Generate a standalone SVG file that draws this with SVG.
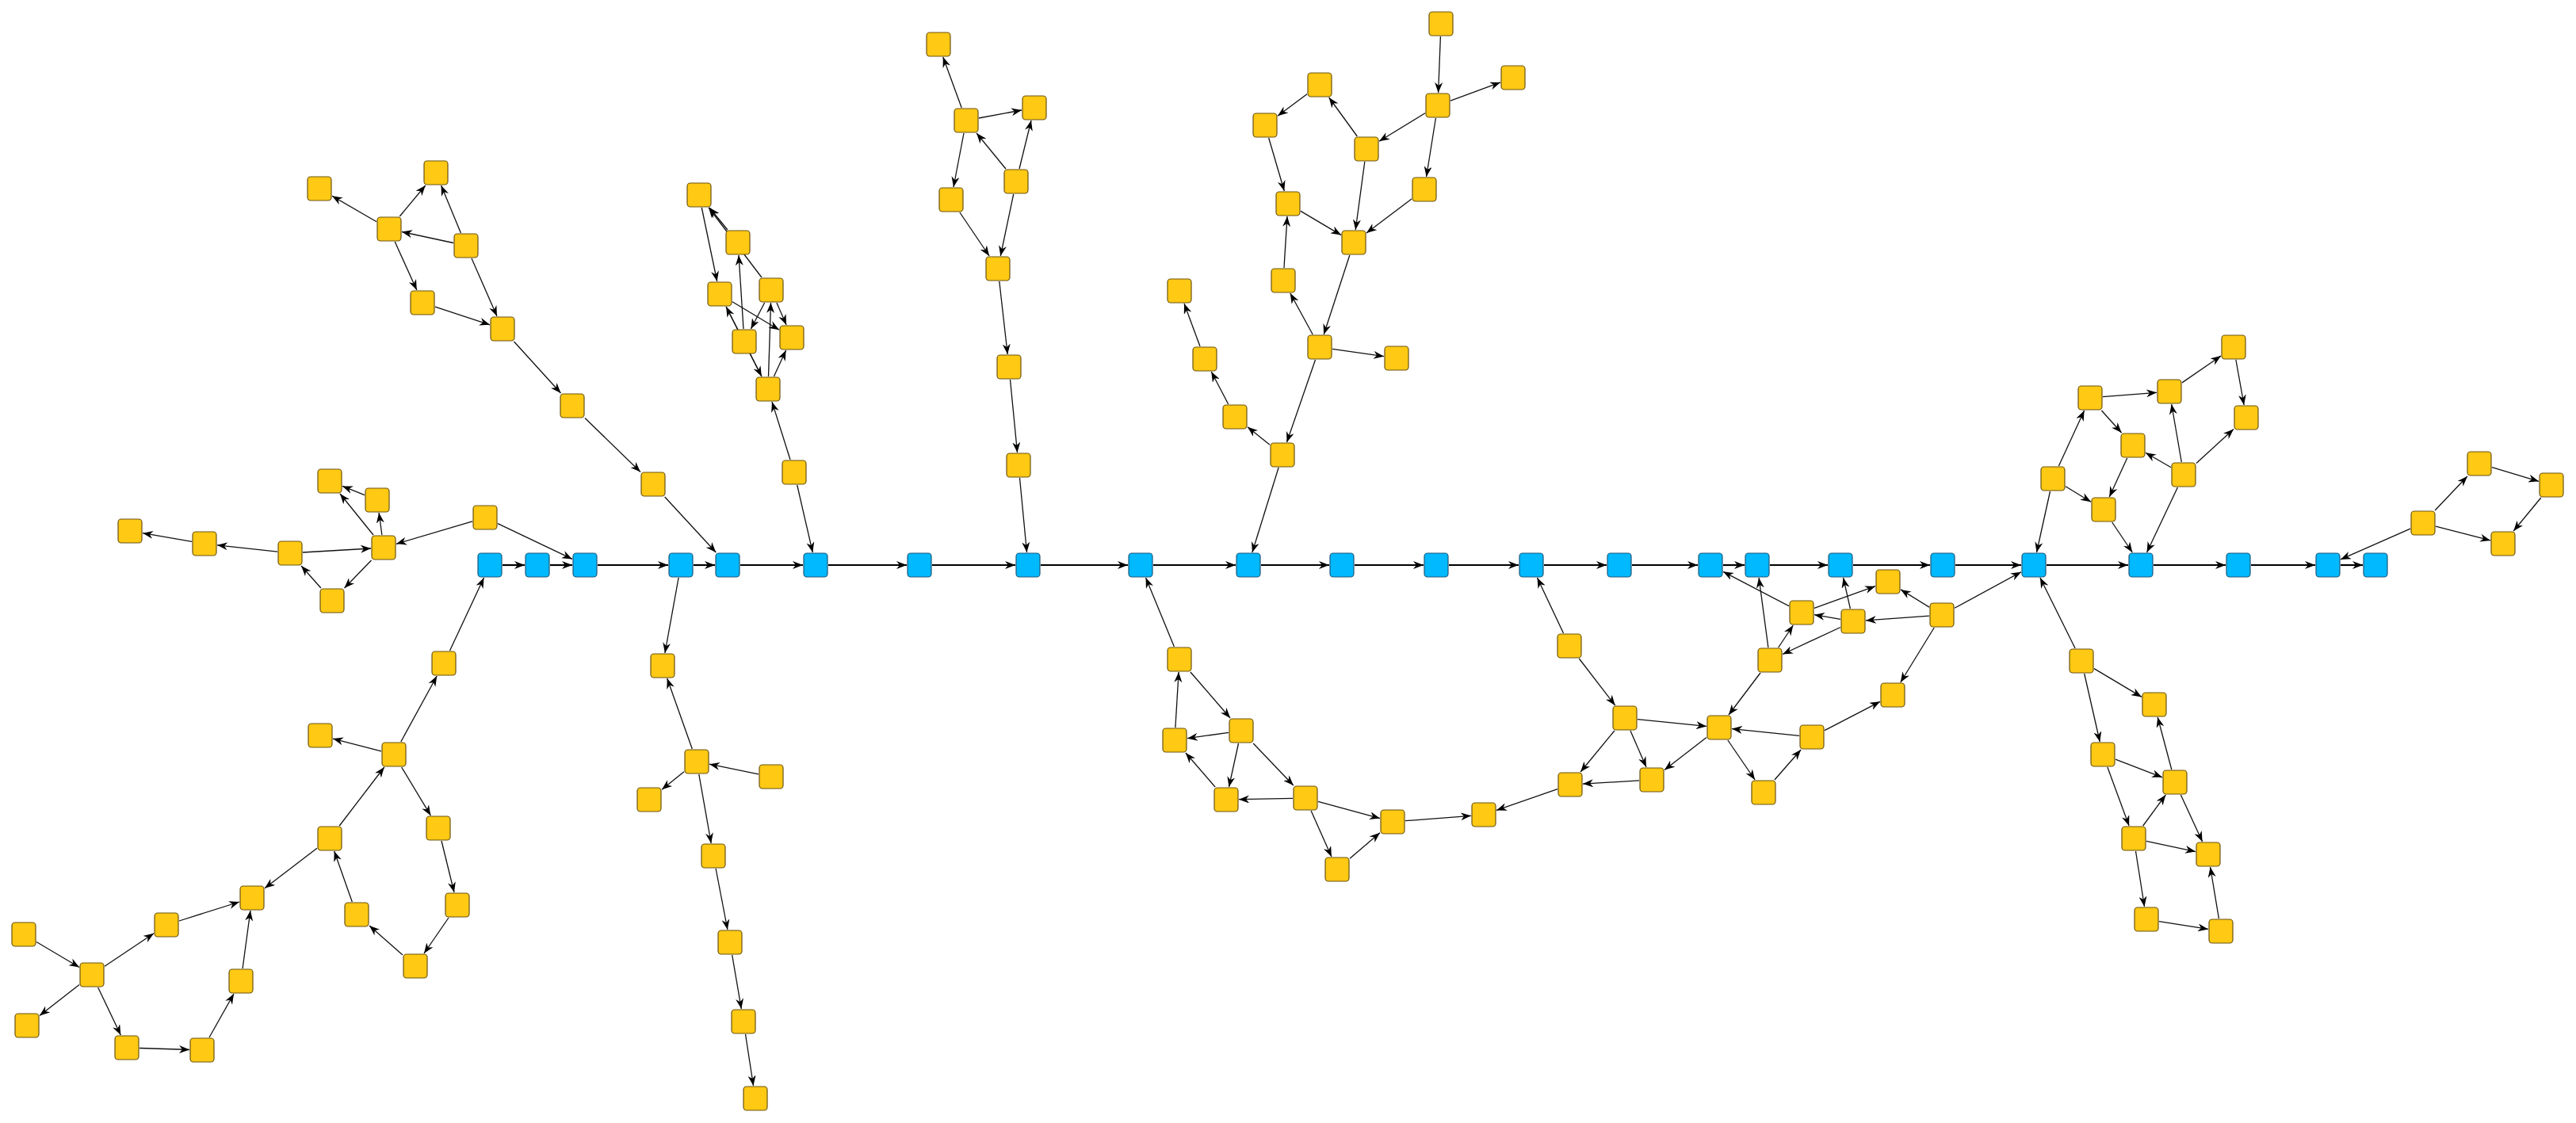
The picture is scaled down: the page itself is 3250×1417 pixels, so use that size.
<svg xmlns="http://www.w3.org/2000/svg" width="3250" height="1417" viewBox="0 0 3250 1417">
<style>
.y{fill:#ffc914;stroke:#6b5412;stroke-width:1.2}
.b{fill:#00b9ff;stroke:#1f5878;stroke-width:1.2}
.e{stroke:#111;stroke-width:1.3;fill:none;marker-end:url(#ah)}
.eb{stroke:#000;stroke-width:2.2;fill:none;marker-end:url(#ah)}
</style>
<defs>
<marker id="ah" viewBox="0 0 13 10" refX="13" refY="5" markerUnits="userSpaceOnUse" markerWidth="13" markerHeight="10" orient="auto"><path d="M0,0 L13,5 L0,10 L4,5 Z" fill="#000"/></marker>
<rect id="nd" x="-15" y="-15" width="30" height="30" rx="4"/>
</defs>
<rect width="3250" height="1417" fill="#fff"/>
<g id="connectors">
<line class="eb" x1="634" y1="713" x2="662" y2="713"/>
<line class="eb" x1="694" y1="713" x2="722" y2="713"/>
<line class="eb" x1="754" y1="713" x2="843" y2="713"/>
<line class="eb" x1="875" y1="713" x2="902" y2="713"/>
<line class="eb" x1="934" y1="713" x2="1013" y2="713"/>
<line class="eb" x1="1045" y1="713" x2="1144" y2="713"/>
<line class="eb" x1="1176" y1="713" x2="1281" y2="713"/>
<line class="eb" x1="1313" y1="713" x2="1423" y2="713"/>
<line class="eb" x1="1455" y1="713" x2="1559" y2="713"/>
<line class="eb" x1="1591" y1="713" x2="1677" y2="713"/>
<line class="eb" x1="1709" y1="713" x2="1796" y2="713"/>
<line class="eb" x1="1828" y1="713" x2="1916" y2="713"/>
<line class="eb" x1="1948" y1="713" x2="2027" y2="713"/>
<line class="eb" x1="2059" y1="713" x2="2142" y2="713"/>
<line class="eb" x1="2174" y1="713" x2="2201" y2="713"/>
<line class="eb" x1="2233" y1="713" x2="2306" y2="713"/>
<line class="eb" x1="2338" y1="713" x2="2435" y2="713"/>
<line class="eb" x1="2467" y1="713" x2="2550" y2="713"/>
<line class="eb" x1="2582" y1="713" x2="2685" y2="713"/>
<line class="eb" x1="2717" y1="713" x2="2808" y2="713"/>
<line class="eb" x1="2840" y1="713" x2="2921" y2="713"/>
<line class="eb" x1="2953" y1="713" x2="2981" y2="713"/>
<line class="e" x1="475" y1="279.7" x2="419" y2="247.3"/>
<line class="e" x1="504.3" y1="273" x2="536.7" y2="234"/>
<line class="e" x1="581.4" y1="294" x2="556.6" y2="234"/>
<line class="e" x1="572" y1="306.5" x2="507" y2="292.5"/>
<line class="e" x1="498.2" y1="305" x2="525.8" y2="366"/>
<line class="e" x1="595" y1="326" x2="627" y2="399"/>
<line class="e" x1="549" y1="387.2" x2="618" y2="409.8"/>
<line class="e" x1="648.5" y1="431" x2="707.5" y2="496"/>
<line class="e" x1="738" y1="527.5" x2="808" y2="595.5"/>
<line class="e" x1="838.7" y1="627" x2="903.3" y2="697"/>
<line class="e" x1="460" y1="624.6" x2="432" y2="613.4"/>
<line class="e" x1="471" y1="675" x2="429" y2="623"/>
<line class="e" x1="481.9" y1="675" x2="478.1" y2="647"/>
<line class="e" x1="350" y1="696.2" x2="274" y2="687.8"/>
<line class="e" x1="242" y1="683.3" x2="180" y2="672.7"/>
<line class="e" x1="382" y1="697" x2="468" y2="692"/>
<line class="e" x1="468.5" y1="707" x2="434.5" y2="742"/>
<line class="e" x1="404.9" y1="742" x2="380.1" y2="714"/>
<line class="e" x1="596" y1="657.8" x2="500" y2="686.3"/>
<line class="e" x1="628" y1="660.6" x2="722" y2="705.4"/>
<line class="e" x1="567.5" y1="821" x2="610.5" y2="729"/>
<line class="e" x1="505.8" y1="936" x2="551.2" y2="853"/>
<line class="e" x1="481" y1="947.9" x2="420" y2="932.1"/>
<line class="e" x1="506.6" y1="968" x2="543.4" y2="1029"/>
<line class="e" x1="428.2" y1="1042" x2="484.8" y2="968"/>
<line class="e" x1="400" y1="1070.2" x2="334" y2="1120.8"/>
<line class="e" x1="226" y1="1162" x2="302" y2="1138"/>
<line class="e" x1="46" y1="1188.5" x2="100" y2="1220.5"/>
<line class="e" x1="132" y1="1219.3" x2="194" y2="1177.7"/>
<line class="e" x1="100" y1="1242.5" x2="50" y2="1281.5"/>
<line class="e" x1="123.7" y1="1246" x2="152.3" y2="1306"/>
<line class="e" x1="176" y1="1322.5" x2="239" y2="1324.5"/>
<line class="e" x1="264" y1="1309" x2="295" y2="1254"/>
<line class="e" x1="306.1" y1="1222" x2="315.9" y2="1149"/>
<line class="e" x1="444.3" y1="1138" x2="421.7" y2="1074"/>
<line class="e" x1="557" y1="1061" x2="573" y2="1126"/>
<line class="e" x1="566" y1="1158" x2="535" y2="1203"/>
<line class="e" x1="508" y1="1205" x2="466" y2="1168"/>
<line class="e" x1="885.3" y1="262" x2="904.7" y2="355"/>
<line class="e" x1="917.9" y1="290" x2="895.1" y2="262"/>
<line class="e" x1="960.9" y1="350" x2="894.1" y2="262"/>
<line class="e" x1="938" y1="415" x2="932" y2="322"/>
<line class="e" x1="960.9" y1="475" x2="916.1" y2="387"/>
<line class="e" x1="916.1" y1="387" x2="960.9" y2="475"/>
<line class="e" x1="969.5" y1="475" x2="972.5" y2="382"/>
<line class="e" x1="976.4" y1="475" x2="991.6" y2="442"/>
<line class="e" x1="964.6" y1="382" x2="947.4" y2="415"/>
<line class="e" x1="979.9" y1="382" x2="992.1" y2="410"/>
<line class="e" x1="924" y1="380.7" x2="983" y2="416.3"/>
<line class="e" x1="997" y1="580" x2="974" y2="507"/>
<line class="e" x1="1005.7" y1="612" x2="1025.3" y2="697"/>
<line class="e" x1="1213.2" y1="136" x2="1189.8" y2="72"/>
<line class="e" x1="1235" y1="149" x2="1289" y2="139"/>
<line class="e" x1="1268.9" y1="213" x2="1232.1" y2="168"/>
<line class="e" x1="1286" y1="213" x2="1301" y2="152"/>
<line class="e" x1="1216" y1="168" x2="1203" y2="236"/>
<line class="e" x1="1210.9" y1="268" x2="1248.1" y2="323"/>
<line class="e" x1="1278.7" y1="245" x2="1262.3" y2="323"/>
<line class="e" x1="1260.8" y1="355" x2="1271.2" y2="447"/>
<line class="e" x1="1274.5" y1="479" x2="1283.5" y2="571"/>
<line class="e" x1="1286.5" y1="603" x2="1295.5" y2="697"/>
<line class="e" x1="1514" y1="437" x2="1494" y2="383"/>
<line class="e" x1="1549.7" y1="510" x2="1528.3" y2="469"/>
<line class="e" x1="1602" y1="561.2" x2="1574" y2="538.8"/>
<line class="e" x1="1613.1" y1="590" x2="1579.9" y2="697"/>
<line class="e" x1="1659.5" y1="454" x2="1623.5" y2="558"/>
<line class="e" x1="1817.4" y1="46" x2="1814.6" y2="117"/>
<line class="e" x1="1830" y1="127.1" x2="1893" y2="103.9"/>
<line class="e" x1="1798" y1="142.8" x2="1740" y2="178.2"/>
<line class="e" x1="1811.4" y1="149" x2="1799.6" y2="223"/>
<line class="e" x1="1712.3" y1="172" x2="1676.7" y2="123"/>
<line class="e" x1="1649" y1="118.8" x2="1612" y2="146.2"/>
<line class="e" x1="1600.7" y1="174" x2="1620.3" y2="241"/>
<line class="e" x1="1721.8" y1="204" x2="1710.2" y2="290"/>
<line class="e" x1="1641" y1="266.4" x2="1692" y2="296.6"/>
<line class="e" x1="1781" y1="251" x2="1724" y2="294"/>
<line class="e" x1="1620" y1="338" x2="1624" y2="273"/>
<line class="e" x1="1656.2" y1="422" x2="1627.8" y2="370"/>
<line class="e" x1="1702.8" y1="322" x2="1670.2" y2="422"/>
<line class="e" x1="1681" y1="440.3" x2="1746" y2="449.7"/>
<line class="e" x1="856.1" y1="729" x2="838.9" y2="824"/>
<line class="e" x1="873.3" y1="945" x2="841.7" y2="856"/>
<line class="e" x1="863" y1="973.8" x2="835" y2="996.2"/>
<line class="e" x1="957" y1="976.8" x2="895" y2="964.2"/>
<line class="e" x1="881.8" y1="977" x2="897.2" y2="1064"/>
<line class="e" x1="903.1" y1="1096" x2="917.9" y2="1173"/>
<line class="e" x1="923.7" y1="1205" x2="935.3" y2="1273"/>
<line class="e" x1="940.5" y1="1305" x2="950.5" y2="1370"/>
<line class="e" x1="1481.4" y1="816" x2="1445.6" y2="729"/>
<line class="e" x1="1482.9" y1="918" x2="1487.1" y2="848"/>
<line class="e" x1="1501.9" y1="848" x2="1552.1" y2="906"/>
<line class="e" x1="1550" y1="924.3" x2="1498" y2="931.7"/>
<line class="e" x1="1562.5" y1="938" x2="1550.5" y2="993"/>
<line class="e" x1="1533.1" y1="993" x2="1495.9" y2="950"/>
<line class="e" x1="1631" y1="1007.3" x2="1563" y2="1008.7"/>
<line class="e" x1="1581.2" y1="938" x2="1631.8" y2="991"/>
<line class="e" x1="1663" y1="1011.4" x2="1741" y2="1032.6"/>
<line class="e" x1="1654.1" y1="1023" x2="1679.9" y2="1081"/>
<line class="e" x1="1703" y1="1083.3" x2="1741" y2="1050.7"/>
<line class="e" x1="1773" y1="1035.7" x2="1856" y2="1029.3"/>
<line class="e" x1="1965" y1="995.6" x2="1888" y2="1022.4"/>
<line class="e" x1="2068" y1="984.9" x2="1997" y2="989.1"/>
<line class="e" x1="2036.9" y1="922" x2="1994.1" y2="974"/>
<line class="e" x1="2057" y1="922" x2="2077" y2="968"/>
<line class="e" x1="2153" y1="930.4" x2="2100" y2="971.6"/>
<line class="e" x1="2179.9" y1="934" x2="2214.1" y2="984"/>
<line class="e" x1="2238.9" y1="984" x2="2272.1" y2="946"/>
<line class="e" x1="1972.5" y1="799" x2="1939.5" y2="729"/>
<line class="e" x1="1992.3" y1="831" x2="2037.7" y2="890"/>
<line class="e" x1="2066" y1="907.6" x2="2153" y2="916.4"/>
<line class="e" x1="2270" y1="928.4" x2="2185" y2="919.6"/>
<line class="e" x1="2221" y1="849" x2="2181" y2="902"/>
<line class="e" x1="2257" y1="764.7" x2="2174" y2="721.3"/>
<line class="e" x1="2230.9" y1="817" x2="2219.1" y2="729"/>
<line class="e" x1="2243.7" y1="817" x2="2262.3" y2="789"/>
<line class="e" x1="2322" y1="791.5" x2="2249" y2="825.5"/>
<line class="e" x1="2322" y1="781.3" x2="2289" y2="775.7"/>
<line class="e" x1="2289" y1="767.3" x2="2366" y2="739.7"/>
<line class="e" x1="2334.4" y1="768" x2="2325.6" y2="729"/>
<line class="e" x1="2434" y1="777.1" x2="2354" y2="782.9"/>
<line class="e" x1="2434" y1="766.1" x2="2398" y2="743.9"/>
<line class="e" x1="2440.2" y1="792" x2="2397.8" y2="861"/>
<line class="e" x1="2302" y1="921.7" x2="2372" y2="885.3"/>
<line class="e" x1="2466" y1="767.3" x2="2550" y2="721.7"/>
<line class="e" x1="2586.5" y1="620" x2="2569.5" y2="697"/>
<line class="e" x1="2597.4" y1="588" x2="2629.6" y2="518"/>
<line class="e" x1="2606" y1="613.8" x2="2638" y2="633.3"/>
<line class="e" x1="2653" y1="500.7" x2="2721" y2="495.3"/>
<line class="e" x1="2651.4" y1="518" x2="2676.6" y2="546"/>
<line class="e" x1="2683.7" y1="578" x2="2661.3" y2="627"/>
<line class="e" x1="2664.7" y1="659" x2="2690.3" y2="697"/>
<line class="e" x1="2747.4" y1="615" x2="2708.6" y2="697"/>
<line class="e" x1="2739" y1="589.8" x2="2707" y2="571.3"/>
<line class="e" x1="2752.3" y1="583" x2="2739.7" y2="510"/>
<line class="e" x1="2771" y1="584.4" x2="2818" y2="541.6"/>
<line class="e" x1="2820.9" y1="454" x2="2831.1" y2="511"/>
<line class="e" x1="2753" y1="482.9" x2="2802" y2="449.1"/>
<line class="e" x1="2618.1" y1="818" x2="2573.9" y2="729"/>
<line class="e" x1="2642" y1="843.6" x2="2702" y2="879.4"/>
<line class="e" x1="2629.7" y1="850" x2="2649.3" y2="936"/>
<line class="e" x1="2739.8" y1="971" x2="2722.2" y2="905"/>
<line class="e" x1="2669" y1="958.2" x2="2728" y2="980.8"/>
<line class="e" x1="2658.9" y1="968" x2="2686.1" y2="1042"/>
<line class="e" x1="2703.7" y1="1042" x2="2732.3" y2="1003"/>
<line class="e" x1="2751.4" y1="1003" x2="2778.6" y2="1062"/>
<line class="e" x1="2708" y1="1061.4" x2="2770" y2="1074.6"/>
<line class="e" x1="2694.5" y1="1074" x2="2705.5" y2="1144"/>
<line class="e" x1="2724" y1="1162.6" x2="2786" y2="1172.4"/>
<line class="e" x1="2799.4" y1="1159" x2="2788.6" y2="1094"/>
<line class="e" x1="3041" y1="667.1" x2="2953" y2="705.9"/>
<line class="e" x1="3072.1" y1="644" x2="3112.9" y2="601"/>
<line class="e" x1="3144" y1="589.7" x2="3203" y2="607.3"/>
<line class="e" x1="3205.8" y1="628" x2="3171.2" y2="670"/>
<line class="e" x1="3073" y1="664.1" x2="3142" y2="681.9"/>
</g>
<g id="nodes">
<g id="b1"><use href="#nd" class="b" x="618" y="713"/></g>
<g id="b2"><use href="#nd" class="b" x="678" y="713"/></g>
<g id="b3"><use href="#nd" class="b" x="738" y="713"/></g>
<g id="b4"><use href="#nd" class="b" x="859" y="713"/></g>
<g id="b5"><use href="#nd" class="b" x="918" y="713"/></g>
<g id="b6"><use href="#nd" class="b" x="1029" y="713"/></g>
<g id="b7"><use href="#nd" class="b" x="1160" y="713"/></g>
<g id="b8"><use href="#nd" class="b" x="1297" y="713"/></g>
<g id="b9"><use href="#nd" class="b" x="1439" y="713"/></g>
<g id="b10"><use href="#nd" class="b" x="1575" y="713"/></g>
<g id="b11"><use href="#nd" class="b" x="1693" y="713"/></g>
<g id="b12"><use href="#nd" class="b" x="1812" y="713"/></g>
<g id="b13"><use href="#nd" class="b" x="1932" y="713"/></g>
<g id="b14"><use href="#nd" class="b" x="2043" y="713"/></g>
<g id="b15"><use href="#nd" class="b" x="2158" y="713"/></g>
<g id="b16"><use href="#nd" class="b" x="2217" y="713"/></g>
<g id="b17"><use href="#nd" class="b" x="2322" y="713"/></g>
<g id="b18"><use href="#nd" class="b" x="2451" y="713"/></g>
<g id="b19"><use href="#nd" class="b" x="2566" y="713"/></g>
<g id="b20"><use href="#nd" class="b" x="2701" y="713"/></g>
<g id="b21"><use href="#nd" class="b" x="2824" y="713"/></g>
<g id="b22"><use href="#nd" class="b" x="2937" y="713"/></g>
<g id="b23"><use href="#nd" class="b" x="2997" y="713"/></g>
<g id="nA"><use href="#nd" class="y" x="403" y="238"/></g>
<g id="nB"><use href="#nd" class="y" x="550" y="218"/></g>
<g id="nC"><use href="#nd" class="y" x="491" y="289"/></g>
<g id="nD"><use href="#nd" class="y" x="588" y="310"/></g>
<g id="nE"><use href="#nd" class="y" x="533" y="382"/></g>
<g id="nF"><use href="#nd" class="y" x="634" y="415"/></g>
<g id="nG"><use href="#nd" class="y" x="722" y="512"/></g>
<g id="nH"><use href="#nd" class="y" x="824" y="611"/></g>
<g id="nI"><use href="#nd" class="y" x="416" y="607"/></g>
<g id="nJ"><use href="#nd" class="y" x="476" y="631"/></g>
<g id="nK"><use href="#nd" class="y" x="164" y="670"/></g>
<g id="nL"><use href="#nd" class="y" x="258" y="686"/></g>
<g id="nM"><use href="#nd" class="y" x="366" y="698"/></g>
<g id="nN"><use href="#nd" class="y" x="484" y="691"/></g>
<g id="nO"><use href="#nd" class="y" x="612" y="653"/></g>
<g id="nP"><use href="#nd" class="y" x="419" y="758"/></g>
<g id="nQ"><use href="#nd" class="y" x="560" y="837"/></g>
<g id="nR"><use href="#nd" class="y" x="404" y="928"/></g>
<g id="nS"><use href="#nd" class="y" x="497" y="952"/></g>
<g id="nT"><use href="#nd" class="y" x="553" y="1045"/></g>
<g id="nU"><use href="#nd" class="y" x="416" y="1058"/></g>
<g id="nV"><use href="#nd" class="y" x="318" y="1133"/></g>
<g id="nW"><use href="#nd" class="y" x="210" y="1167"/></g>
<g id="nX"><use href="#nd" class="y" x="30" y="1179"/></g>
<g id="nY"><use href="#nd" class="y" x="116" y="1230"/></g>
<g id="nZ"><use href="#nd" class="y" x="34" y="1294"/></g>
<g id="nAA"><use href="#nd" class="y" x="160" y="1322"/></g>
<g id="nAB"><use href="#nd" class="y" x="255" y="1325"/></g>
<g id="nAC"><use href="#nd" class="y" x="304" y="1238"/></g>
<g id="nAD"><use href="#nd" class="y" x="450" y="1154"/></g>
<g id="nAE"><use href="#nd" class="y" x="577" y="1142"/></g>
<g id="nAF"><use href="#nd" class="y" x="524" y="1219"/></g>
<g id="nAG"><use href="#nd" class="y" x="882" y="246"/></g>
<g id="nAH"><use href="#nd" class="y" x="931" y="306"/></g>
<g id="nAI"><use href="#nd" class="y" x="908" y="371"/></g>
<g id="nAJ"><use href="#nd" class="y" x="973" y="366"/></g>
<g id="nAK"><use href="#nd" class="y" x="939" y="431"/></g>
<g id="nAL"><use href="#nd" class="y" x="999" y="426"/></g>
<g id="nAM"><use href="#nd" class="y" x="969" y="491"/></g>
<g id="nAMb"><use href="#nd" class="y" x="1002" y="596"/></g>
<g id="nAN"><use href="#nd" class="y" x="1184" y="56"/></g>
<g id="nAO"><use href="#nd" class="y" x="1219" y="152"/></g>
<g id="nAP"><use href="#nd" class="y" x="1305" y="136"/></g>
<g id="nAQ"><use href="#nd" class="y" x="1200" y="252"/></g>
<g id="nAR"><use href="#nd" class="y" x="1282" y="229"/></g>
<g id="nAS"><use href="#nd" class="y" x="1259" y="339"/></g>
<g id="nAT"><use href="#nd" class="y" x="1273" y="463"/></g>
<g id="nAT2"><use href="#nd" class="y" x="1285" y="587"/></g>
<g id="nAU"><use href="#nd" class="y" x="1488" y="367"/></g>
<g id="nAV"><use href="#nd" class="y" x="1520" y="453"/></g>
<g id="nAW"><use href="#nd" class="y" x="1558" y="526"/></g>
<g id="nAX"><use href="#nd" class="y" x="1618" y="574"/></g>
<g id="nAY"><use href="#nd" class="y" x="1665" y="438"/></g>
<g id="nAZ"><use href="#nd" class="y" x="1818" y="30"/></g>
<g id="nBA"><use href="#nd" class="y" x="1909" y="98"/></g>
<g id="nBB"><use href="#nd" class="y" x="1814" y="133"/></g>
<g id="nBC"><use href="#nd" class="y" x="1665" y="107"/></g>
<g id="nBD"><use href="#nd" class="y" x="1596" y="158"/></g>
<g id="nBE"><use href="#nd" class="y" x="1724" y="188"/></g>
<g id="nBF"><use href="#nd" class="y" x="1797" y="239"/></g>
<g id="nBG"><use href="#nd" class="y" x="1625" y="257"/></g>
<g id="nBH"><use href="#nd" class="y" x="1708" y="306"/></g>
<g id="nBI"><use href="#nd" class="y" x="1619" y="354"/></g>
<g id="nBJ"><use href="#nd" class="y" x="1762" y="452"/></g>
<g id="nBK"><use href="#nd" class="y" x="836" y="840"/></g>
<g id="nBL"><use href="#nd" class="y" x="879" y="961"/></g>
<g id="nBM"><use href="#nd" class="y" x="819" y="1009"/></g>
<g id="nBN"><use href="#nd" class="y" x="973" y="980"/></g>
<g id="nBO"><use href="#nd" class="y" x="900" y="1080"/></g>
<g id="nBP"><use href="#nd" class="y" x="921" y="1189"/></g>
<g id="nBQ"><use href="#nd" class="y" x="938" y="1289"/></g>
<g id="nBR"><use href="#nd" class="y" x="953" y="1386"/></g>
<g id="nBS"><use href="#nd" class="y" x="1547" y="1009"/></g>
<g id="nBT"><use href="#nd" class="y" x="1482" y="934"/></g>
<g id="nBU"><use href="#nd" class="y" x="1488" y="832"/></g>
<g id="nBV"><use href="#nd" class="y" x="1566" y="922"/></g>
<g id="nBW"><use href="#nd" class="y" x="1647" y="1007"/></g>
<g id="nBX"><use href="#nd" class="y" x="1757" y="1037"/></g>
<g id="nBY"><use href="#nd" class="y" x="1687" y="1097"/></g>
<g id="nBZ"><use href="#nd" class="y" x="1872" y="1028"/></g>
<g id="nCA"><use href="#nd" class="y" x="1981" y="990"/></g>
<g id="nCB"><use href="#nd" class="y" x="2084" y="984"/></g>
<g id="nCC"><use href="#nd" class="y" x="2225" y="1000"/></g>
<g id="nCD"><use href="#nd" class="y" x="2286" y="930"/></g>
<g id="nCE"><use href="#nd" class="y" x="1980" y="815"/></g>
<g id="nCF"><use href="#nd" class="y" x="2050" y="906"/></g>
<g id="nCG"><use href="#nd" class="y" x="2169" y="918"/></g>
<g id="nCH"><use href="#nd" class="y" x="2233" y="833"/></g>
<g id="nCI"><use href="#nd" class="y" x="2273" y="773"/></g>
<g id="nCJ"><use href="#nd" class="y" x="2338" y="784"/></g>
<g id="nCK"><use href="#nd" class="y" x="2382" y="734"/></g>
<g id="nCL"><use href="#nd" class="y" x="2388" y="877"/></g>
<g id="nCM"><use href="#nd" class="y" x="2450" y="776"/></g>
<g id="nCN"><use href="#nd" class="y" x="2637" y="502"/></g>
<g id="nCO"><use href="#nd" class="y" x="2737" y="494"/></g>
<g id="nCP"><use href="#nd" class="y" x="2834" y="527"/></g>
<g id="nCQ"><use href="#nd" class="y" x="2691" y="562"/></g>
<g id="nCR"><use href="#nd" class="y" x="2590" y="604"/></g>
<g id="nCS"><use href="#nd" class="y" x="2755" y="599"/></g>
<g id="nCT"><use href="#nd" class="y" x="2654" y="643"/></g>
<g id="nCU"><use href="#nd" class="y" x="2626" y="834"/></g>
<g id="nCV"><use href="#nd" class="y" x="2718" y="889"/></g>
<g id="nCW"><use href="#nd" class="y" x="2653" y="952"/></g>
<g id="nDB"><use href="#nd" class="y" x="2818" y="438"/></g>
<g id="nDC"><use href="#nd" class="y" x="2744" y="987"/></g>
<g id="nDD"><use href="#nd" class="y" x="2692" y="1058"/></g>
<g id="nDE"><use href="#nd" class="y" x="2786" y="1078"/></g>
<g id="nDF"><use href="#nd" class="y" x="2708" y="1160"/></g>
<g id="nDG"><use href="#nd" class="y" x="2802" y="1175"/></g>
<g id="nCX"><use href="#nd" class="y" x="3128" y="585"/></g>
<g id="nCY"><use href="#nd" class="y" x="3219" y="612"/></g>
<g id="nCZ"><use href="#nd" class="y" x="3057" y="660"/></g>
<g id="nDA"><use href="#nd" class="y" x="3158" y="686"/></g>
</g>
</svg>
